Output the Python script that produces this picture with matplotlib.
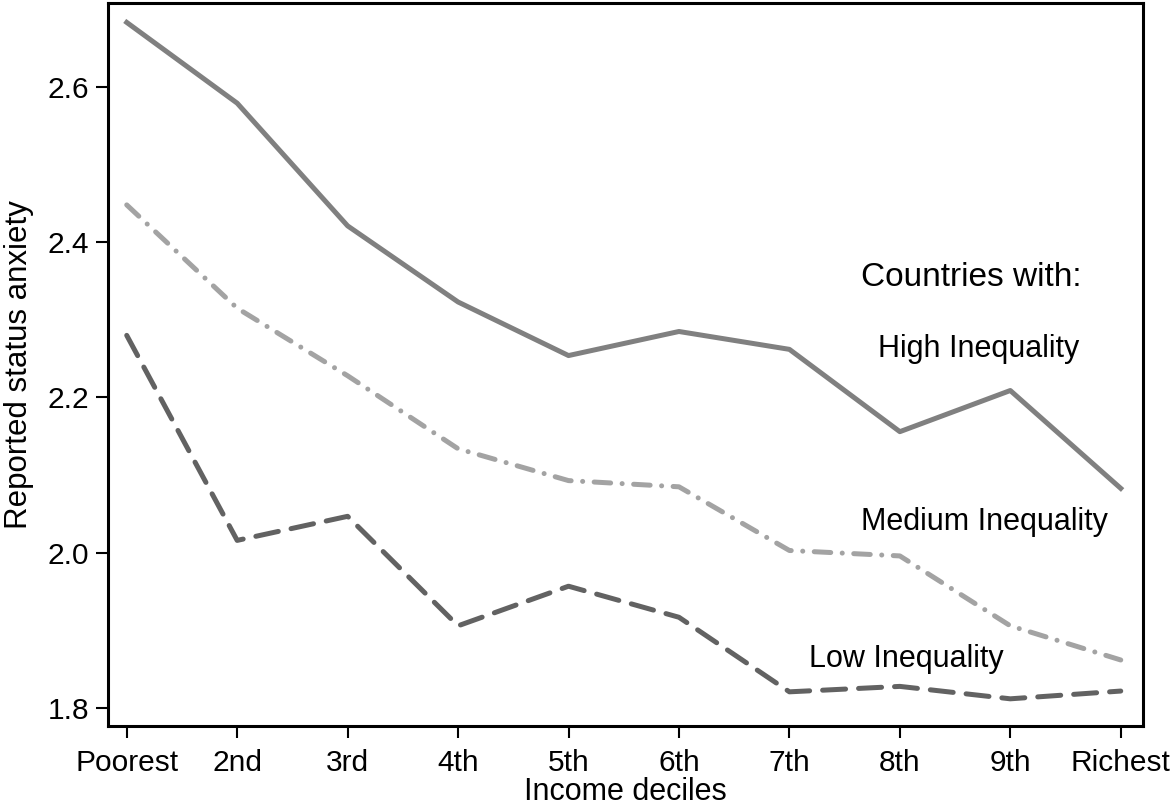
import numpy as np
import matplotlib.pyplot as plt

deciles = ['Poorest', '2nd', '3rd', '4th', '5th', '6th', '7th', '8th', '9th', 'Richest']

high_ineq = [2.683, 2.579, 2.421, 2.323, 2.254, 2.285, 2.262, 2.156, 2.209, 2.083]
medium_ineq = [2.448, 2.315, 2.228, 2.134, 2.093, 2.085, 2.003, 1.996, 1.906, 1.862]
low_ineq = [2.280, 2.016, 2.047, 1.906, 1.957, 1.917, 1.821, 1.828, 1.812, 1.822]

yticks = [1.8, 2.0, 2.2, 2.4, 2.6]

plt.rcParams['font.family'] = ['Liberation Sans', 'DejaVu Sans']

fig = plt.figure(figsize=(11.76, 8.09), dpi=100)
ax = fig.add_axes([0.0918, 0.1026, 0.880, 0.8937])

x = np.arange(len(deciles))
ax.plot(x, high_ineq, color='#808080', lw=3.6, solid_joinstyle='round')
ax.plot(x, medium_ineq, color='#a3a3a3', lw=3.6,
        linestyle=(0, (3.3, 2.3, 0.01, 2.3)), dash_capstyle='round')
ax.plot(x, low_ineq, color='#626262', lw=3.6,
        linestyle=(0, (4.6, 2.6)), dash_capstyle='round')

# labels for the three groups
ax.text(7.65, 2.354, 'Countries with:', fontsize=24, ha='center', va='center')
ax.text(7.71, 2.262, 'High Inequality', fontsize=22, ha='center', va='center')
ax.text(7.77, 2.040, 'Medium Inequality', fontsize=22, ha='center', va='center')
ax.text(7.06, 1.863, 'Low Inequality', fontsize=22, ha='center', va='center')

ax.set_xlim(-0.17, 9.2)
ax.set_ylim(1.777, 2.708)
ax.set_xticks(x)
ax.set_xticklabels(deciles)
ax.set_yticks(yticks)
ax.set_yticklabels([f'{v:.1f}' for v in yticks])
ax.tick_params(axis='both', direction='out', length=8.5, width=1.5, labelsize=21.5)
ax.tick_params(axis='x', pad=8)
ax.tick_params(axis='y', pad=5)

for s in ax.spines.values():
    s.set_linewidth(2.2)

ax.set_xlabel('Income deciles', fontsize=22, labelpad=0)
ax.set_ylabel('Reported status anxiety', fontsize=22.5, labelpad=10)

fig.savefig('out.png', dpi=100)
